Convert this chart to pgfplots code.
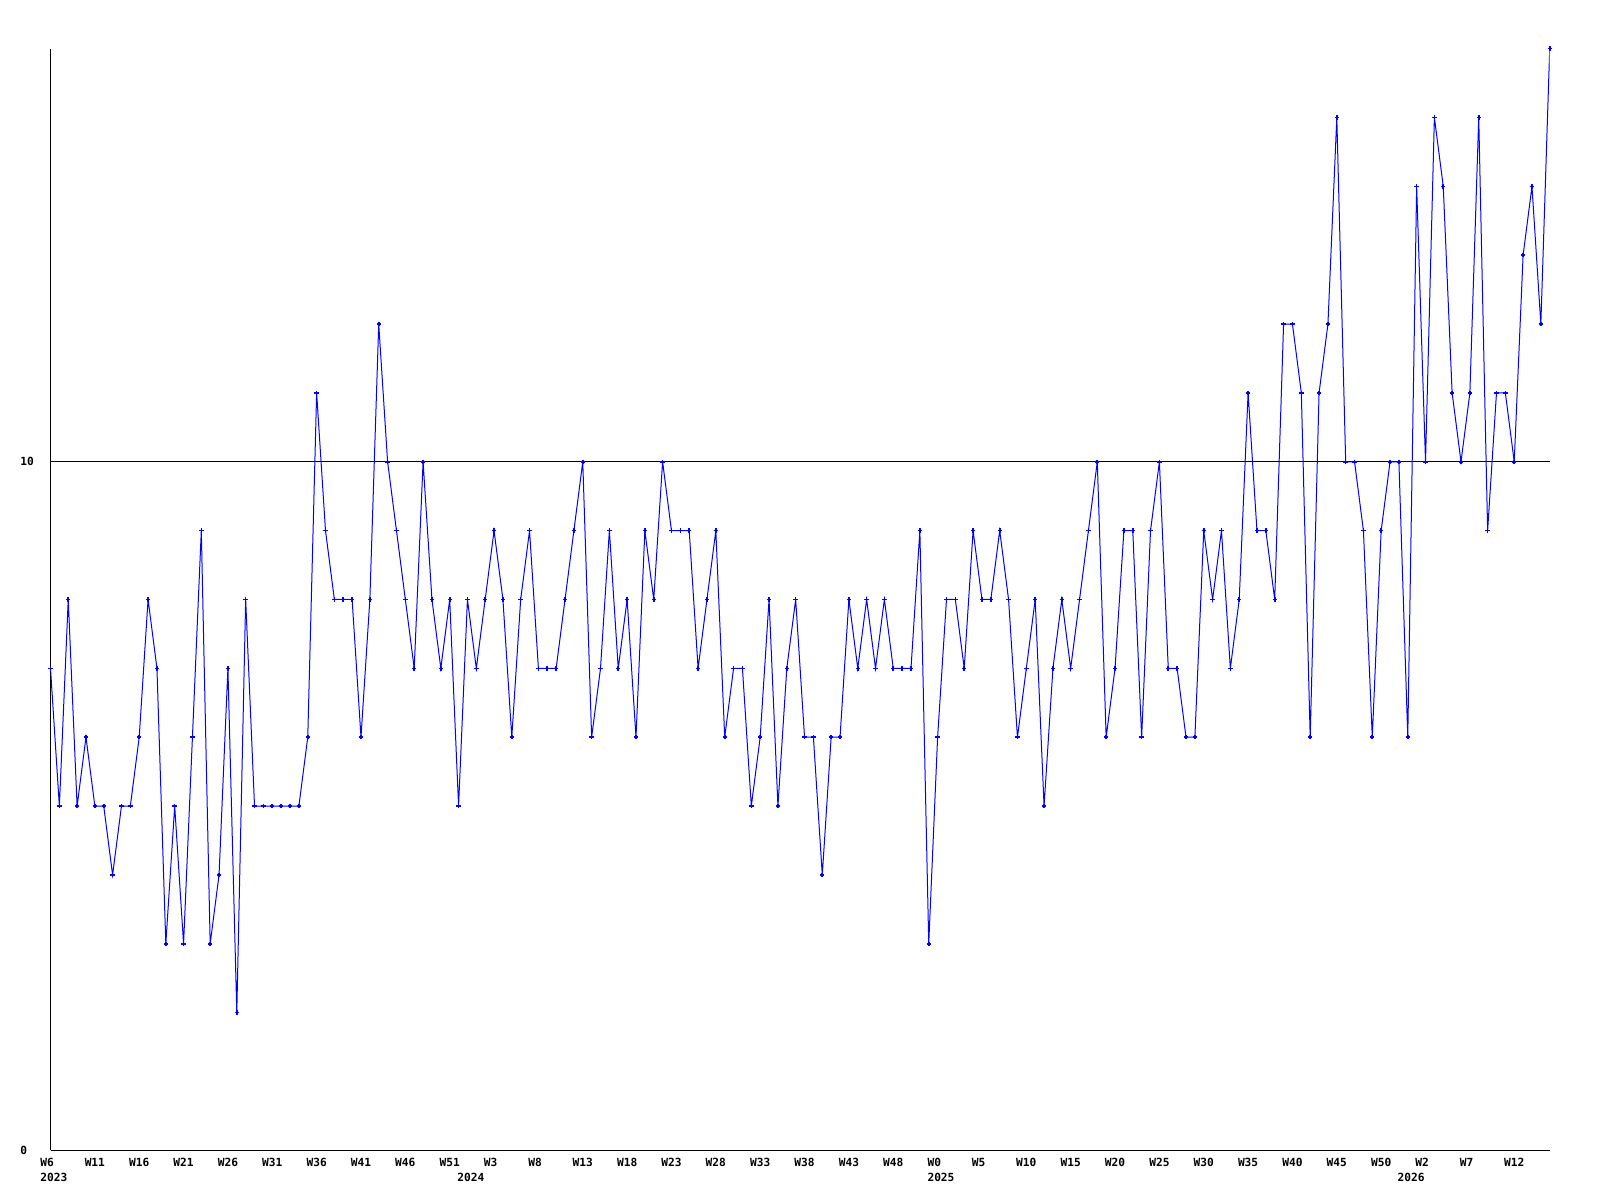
\documentclass[border=0pt]{standalone}
\usepackage{pgfplots}
\pgfplotsset{compat=1.18}
\usepackage{fontspec}
\setmonofont{DejaVu Sans Mono}
\definecolor{lineblue}{RGB}{0,0,255}

\begin{document}
\begin{tikzpicture}
  \path[use as bounding box] (0,0) rectangle (800pt,600pt);
  \begin{axis}[
      at={(25.25pt,24.85pt)}, anchor=south west,
      scale only axis,
      width=749.6pt, height=550.8pt,
      xmin=0, xmax=169, ymin=0, ymax=16,
      axis lines*=left,
      axis line style={black, line width=0.5pt},
      major tick length=0pt,
      ymajorgrids, grid style={black, solid, line width=0.5pt},
      ytick={0,10}, yticklabels={0,10},
      xtick={0,5,...,165},
      xticklabels={W6,W11,W16,W21,W26,W31,W36,W41,W46,W51,W3,W8,W13,W18,W23,W28,W33,W38,W43,W48,
                   W0,W5,W10,W15,W20,W25,W30,W35,W40,W45,W50,W2,W7,W12},
      extra x ticks={0,47,100,153},
      extra x tick labels={2023,2024,2025,2026},
      extra x tick style={major tick length=0pt, xticklabel style={yshift=-7.5pt}},
      tick label style={font=\ttfamily\bfseries\fontsize{5.6}{6.7}\selectfont, inner sep=0pt},
      xticklabel style={anchor=base west, xshift=-5.25pt, yshift=-7.85pt},
      yticklabel style={anchor=west, xshift=-15.25pt},
    ]
    \addplot[lineblue, line width=0.5pt, mark=+, mark size=1.1pt,
             mark options={line width=0.8pt}]
      coordinates {
        (0,7) (1,5) (2,8) (3,5) (4,6) (5,5) (6,5) (7,4) (8,5) (9,5)
        (10,6) (11,8) (12,7) (13,3) (14,5) (15,3) (16,6) (17,9) (18,3) (19,4)
        (20,7) (21,2) (22,8) (23,5) (24,5) (25,5) (26,5) (27,5) (28,5) (29,6)
        (30,11) (31,9) (32,8) (33,8) (34,8) (35,6) (36,8) (37,12) (38,10) (39,9)
        (40,8) (41,7) (42,10) (43,8) (44,7) (45,8) (46,5) (47,8) (48,7) (49,8)
        (50,9) (51,8) (52,6) (53,8) (54,9) (55,7) (56,7) (57,7) (58,8) (59,9)
        (60,10) (61,6) (62,7) (63,9) (64,7) (65,8) (66,6) (67,9) (68,8) (69,10)
        (70,9) (71,9) (72,9) (73,7) (74,8) (75,9) (76,6) (77,7) (78,7) (79,5)
        (80,6) (81,8) (82,5) (83,7) (84,8) (85,6) (86,6) (87,4) (88,6) (89,6)
        (90,8) (91,7) (92,8) (93,7) (94,8) (95,7) (96,7) (97,7) (98,9) (99,3)
        (100,6) (101,8) (102,8) (103,7) (104,9) (105,8) (106,8) (107,9) (108,8) (109,6)
        (110,7) (111,8) (112,5) (113,7) (114,8) (115,7) (116,8) (117,9) (118,10) (119,6)
        (120,7) (121,9) (122,9) (123,6) (124,9) (125,10) (126,7) (127,7) (128,6) (129,6)
        (130,9) (131,8) (132,9) (133,7) (134,8) (135,11) (136,9) (137,9) (138,8) (139,12)
        (140,12) (141,11) (142,6) (143,11) (144,12) (145,15) (146,10) (147,10) (148,9) (149,6)
        (150,9) (151,10) (152,10) (153,6) (154,14) (155,10) (156,15) (157,14) (158,11) (159,10)
        (160,11) (161,15) (162,9) (163,11) (164,11) (165,10) (166,13) (167,14) (168,12) (169,16)
      };
  \end{axis}
\end{tikzpicture}
\end{document}
